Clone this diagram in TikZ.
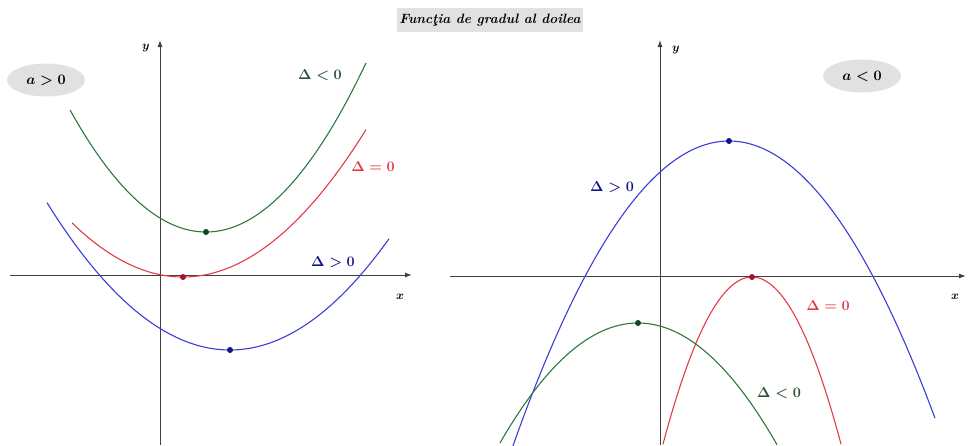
\documentclass[tikz,border=0pt]{standalone}
\usetikzlibrary{arrows.meta,shapes.geometric}
\definecolor{cgreen}{RGB}{45,120,60}
\definecolor{cred}{RGB}{225,60,70}
\definecolor{cblue}{RGB}{60,60,215}
\definecolor{dgreen}{RGB}{20,70,35}
\definecolor{dred}{RGB}{170,20,40}
\definecolor{dblue}{RGB}{20,20,140}
\definecolor{lblgreen}{RGB}{40,80,50}
\definecolor{boxgray}{RGB}{225,225,225}
\tikzset{
  axis/.style={draw=black!75, line width=1pt, -{Latex[length=7pt,width=5pt]}},
  curve/.style={line width=1.1pt, smooth, samples=80},
  vdot/.style={circle, fill=#1, inner sep=0pt, minimum size=6pt},
  lbl/.style={font=\fontsize{14}{16}\selectfont\boldmath, inner sep=1pt},
  axlbl/.style={font=\fontsize{12}{14}\selectfont\boldmath, inner sep=1pt},
  oval/.style={ellipse, fill=boxgray, minimum width=78pt, minimum height=33pt, inner sep=0pt, font=\fontsize{14}{16}\selectfont\boldmath},
  titlebox/.style={fill=boxgray, minimum width=186pt, minimum height=24pt, inner sep=0pt, font=\fontsize{13.5}{15}\selectfont\bfseries\itshape}
}
\begin{document}
\begin{tikzpicture}[x=1pt,y=-1pt]
\useasboundingbox (0,0) rectangle (968,445);
% title
\node[titlebox] (title) at (490,20) {Funcţia de gradul al doilea};
% left axes
\coordinate (lxa) at (10,275);
\coordinate (lxb) at (412,275);
\coordinate (lya) at (160,445);
\coordinate (lyb) at (160,40);
\draw[axis] (lxa) -- (lxb);
\draw[axis] (lya) -- (lyb);
\node[axlbl] (lx) at (400,297) {$x$};
\node[axlbl] (ly) at (146,48) {$y$};
% left curves
\draw[curve, cgreen] plot[domain=70:366] (\x,{232-0.66*(0.1*(\x-206))^2});
\draw[curve, cred] plot[domain=72:366] (\x,{277-0.44*(0.1*(\x-183))^2});
\draw[curve, cblue] plot[domain=47:389] (\x,{350-0.44*(0.1*(\x-230))^2});
\node[vdot=dgreen] (lg) at (206,232) {};
\node[vdot=dred] (lr) at (183,277) {};
\node[vdot=dblue] (lb) at (230,350) {};
\node[lbl, text=lblgreen] (lgl) at (320,75) {$\Delta<0$};
\node[lbl, text=cred] (lrl) at (373,167) {$\Delta=0$};
\node[lbl, text=dblue] (lbl1) at (333,262) {$\Delta>0$};
\node[oval] (apos) at (46,80) {$a>0$};
% right axes
\coordinate (rxa) at (450,276);
\coordinate (rxb) at (966,276);
\coordinate (rya) at (660,445);
\coordinate (ryb) at (660,40);
\draw[axis] (rxa) -- (rxb);
\draw[axis] (rya) -- (ryb);
\node[axlbl] (rx) at (955,297) {$x$};
\node[axlbl] (ry) at (676,50) {$y$};
% right curves
\draw[curve, cblue] plot[domain=513:935] (\x,{141+0.653*(0.1*(\x-729))^2});
\draw[curve, cred] plot[domain=663:841] (\x,{277+2.11*(0.1*(\x-752))^2});
\draw[curve, cgreen] plot[domain=500:777] (\x,{323+0.63*(0.1*(\x-638))^2});
\node[vdot=dblue] (rb) at (729,141) {};
\node[vdot=dred] (rr) at (752,277) {};
\node[vdot=dgreen] (rg) at (638,323) {};
\node[lbl, text=dblue] (rbl) at (612,187) {$\Delta>0$};
\node[lbl, text=cred] (rrl) at (828,306) {$\Delta=0$};
\node[lbl, text=lblgreen] (rgl) at (779,393) {$\Delta<0$};
\node[oval] (aneg) at (862,76) {$a<0$};
\end{tikzpicture}
\end{document}
